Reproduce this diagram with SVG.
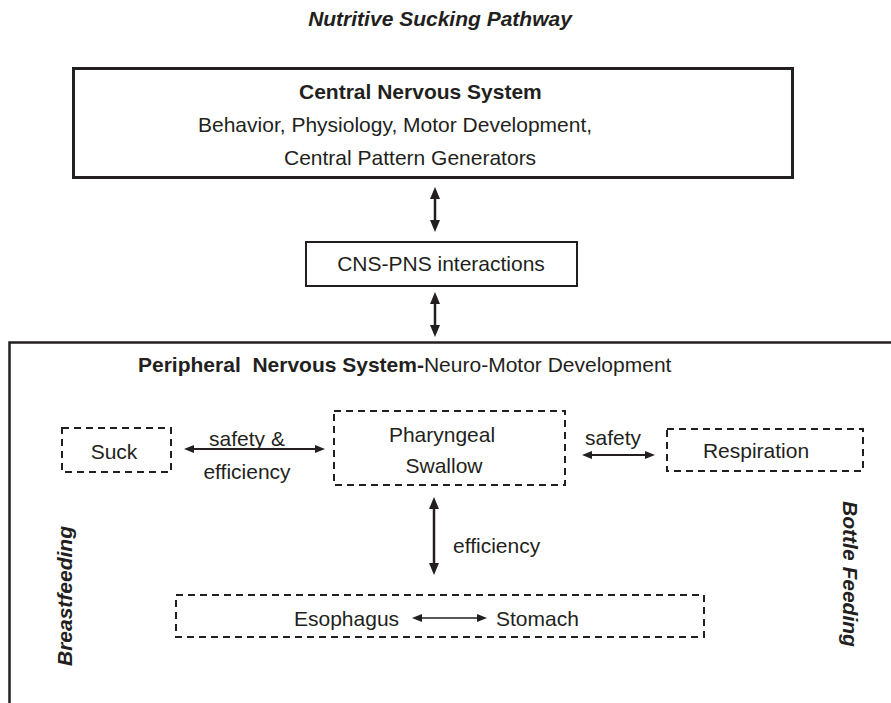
<svg xmlns="http://www.w3.org/2000/svg" width="891" height="703" viewBox="0 0 891 703">
<style>
  text { font-family: "Liberation Sans", Arial, Helvetica, sans-serif; font-size: 21px; fill: #231f20; }
  .b { font-weight: bold; }
  .bi { font-weight: bold; font-style: italic; }
  .mid { text-anchor: middle; }
  .solid { fill: none; stroke: #231f20; }
  .dash { fill: none; stroke: #231f20; stroke-width: 2; stroke-dasharray: 7 5; }
  .conn { stroke: #231f20; fill: none; }
</style>
<defs>
  <marker id="ahBig" markerUnits="userSpaceOnUse" markerWidth="12" markerHeight="10" refX="2" refY="5" orient="auto-start-reverse" viewBox="0 0 12 10">
    <path d="M0,0 L12,5 L0,10 z" fill="#231f20"/>
  </marker>
  <marker id="ahSm" markerUnits="userSpaceOnUse" markerWidth="10" markerHeight="8" refX="2" refY="4" orient="auto-start-reverse" viewBox="0 0 10 8">
    <path d="M0,0 L10,4 L0,8 z" fill="#231f20"/>
  </marker>
</defs>
<rect width="891" height="703" fill="#ffffff"/>

<g id="title">
  <text class="bi mid" x="440" y="26">Nutritive Sucking Pathway</text>
</g>

<g id="cns">
  <rect class="solid" x="73.5" y="68.5" width="719" height="109" stroke-width="3"/>
  <text class="b" x="299" y="99">Central Nervous System</text>
  <text x="198" y="132">Behavior, Physiology, Motor Development,</text>
  <text x="284" y="165">Central Pattern Generators</text>
</g>

<g id="cns-pns">
  <rect class="solid" x="306" y="242" width="271" height="44" stroke-width="2"/>
  <text class="mid" x="441" y="271">CNS-PNS interactions</text>
</g>

<g id="pns">
  <path class="solid" d="M9.5,703 V342.5 H891" stroke-width="2.5"/>
  <text x="138" y="372" xml:space="preserve"><tspan class="b">Peripheral  Nervous System-</tspan>Neuro-Motor Development</text>
</g>

<g id="suck">
  <rect class="dash" x="62" y="428" width="109" height="44"/>
  <text class="mid" x="114" y="459">Suck</text>
</g>

<g id="pharyngeal">
  <rect class="dash" x="334" y="411" width="231" height="74"/>
  <text class="mid" x="442" y="442">Pharyngeal</text>
  <text class="mid" x="444" y="473">Swallow</text>
</g>

<g id="respiration">
  <rect class="dash" x="667" y="429" width="196" height="42"/>
  <text class="mid" x="756" y="458">Respiration</text>
</g>

<g id="gi">
  <rect class="dash" x="176" y="595" width="528" height="42"/>
  <text x="294" y="626">Esophagus</text>
  <text x="496" y="626">Stomach</text>
</g>

<g id="side-labels">
  <text class="bi mid" transform="translate(72,596) rotate(-90)">Breastfeeding</text>
  <text class="bi mid" transform="translate(843,574) rotate(90)">Bottle Feeding</text>
</g>

<g id="connectors">
  <line class="conn" x1="435" y1="197" x2="435" y2="222" stroke-width="2.5" marker-start="url(#ahBig)" marker-end="url(#ahBig)"/>
  <line class="conn" x1="435" y1="302" x2="435" y2="327" stroke-width="2.5" marker-start="url(#ahBig)" marker-end="url(#ahBig)"/>
  <line class="conn" x1="434" y1="507" x2="434" y2="565" stroke-width="2.5" marker-start="url(#ahBig)" marker-end="url(#ahBig)"/>
  <line class="conn" x1="192" y1="449" x2="317" y2="449" stroke-width="2" marker-start="url(#ahSm)" marker-end="url(#ahSm)"/>
  <line class="conn" x1="590" y1="455" x2="647" y2="455" stroke-width="2" marker-start="url(#ahSm)" marker-end="url(#ahSm)"/>
  <line class="conn" x1="420" y1="618" x2="479" y2="618" stroke-width="1.5" marker-start="url(#ahSm)" marker-end="url(#ahSm)"/>
  <text x="613" y="445" class="mid">safety</text>
  <text x="247" y="446" class="mid">safety &amp;</text>
  <text x="247" y="479" class="mid">efficiency</text>
  <text x="453" y="553">efficiency</text>
</g>
</svg>
